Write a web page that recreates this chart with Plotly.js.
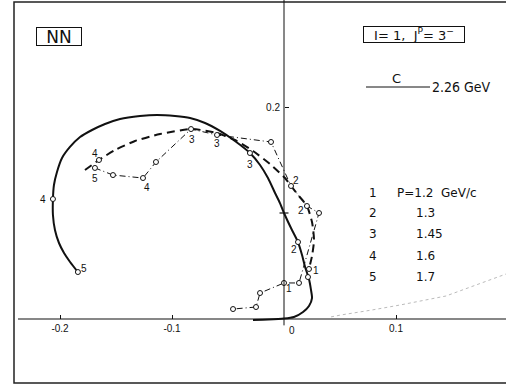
<!DOCTYPE html>
<html>
<head>
<meta charset="utf-8">
<script src="https://cdn.plot.ly/plotly-3.0.1.min.js"></script>
<style>html,body{margin:0;padding:0;background:#fff;}#chart{width:506px;height:385px;}</style>
</head>
<body>
<div id="chart"></div>
<script>
// Solid curve (energy-dependent solution)
const solidX = [-0.184,-0.191,-0.1964,-0.2009,-0.2045,-0.2063,-0.2063,-0.2054,-0.2027,-0.1982,-0.1911,-0.1821,-0.1714,-0.1598,-0.1464,-0.1286,-0.1134,-0.0973,-0.0839,-0.0705,-0.0571,-0.0438,-0.0304,-0.0214,-0.0143,-0.008,-0.0036,0,0.00625,0.0125,0.0161,0.0188,0.0223,0.0241,0.025,0.0223,0.017,0.0089,0,-0.0143,-0.0277];
const solidY = [0.0443,0.0538,0.0623,0.0717,0.084,0.0981,0.1132,0.1264,0.1387,0.1519,0.1623,0.1717,0.1783,0.184,0.1887,0.1915,0.1925,0.1915,0.1896,0.1849,0.1774,0.1679,0.1566,0.1453,0.133,0.1189,0.1094,0.1,0.0858,0.0726,0.0604,0.0491,0.0377,0.0274,0.0198,0.0123,0.0066,0.0019,0.0004,-0.0005,-0.0009];
const solidPtX = [-0.184,-0.2063,-0.0304,0.0125,0.0214];
const solidPtY = [0.0443,0.1132,0.1566,0.0726,0.0396];

// Dashed curve
const dashX = [-0.1777,-0.1652,-0.1509,-0.133,-0.1107,-0.0821,-0.0598,-0.0438,-0.0277,-0.0125,0.0009,0.00625,0.0134,0.0205,0.025,0.0268,0.025,0.0223];
const dashY = [0.1406,0.15,0.1594,0.1679,0.1745,0.1792,0.1755,0.1689,0.1585,0.1462,0.133,0.1255,0.116,0.1066,0.0915,0.0745,0.0594,0.0472];
const dashPtX = [-0.1652,0.0223];
const dashPtY = [0.15,0.0472];

// Dash-dot chain of single-energy points
const ddX = [-0.1688,-0.1527,-0.1259,-0.1143,-0.083,-0.0598,-0.0116,0.00625,0.0205,0.03125,0.0134,0,-0.0214,-0.025,-0.0455];
const ddY = [0.1425,0.1358,0.133,0.1481,0.1792,0.1736,0.167,0.1255,0.1066,0.1,0.034,0.034,0.0245,0.0113,0.0094];

// Faint curve lower right
const faintX = [0.042,0.0509,0.0786,0.1036,0.1446,0.1982,0.21];
const faintY = [0.002,0.0038,0.0085,0.0132,0.0217,0.0425,0.047];

// Point labels
const ptLabel = ["5","4","4","5","4","3","3","3","2","2","2","1","1"];
const ptLabelX = [-0.1786,-0.2152,-0.1688,-0.1688,-0.1223,-0.0821,-0.0598,-0.0305,0.0107,0.0152,0.0089,0.0286,0.0045];
const ptLabelY = [0.0481,0.1132,0.1557,0.133,0.1236,0.1689,0.1651,0.1462,0.1311,0.1019,0.0651,0.0453,0.0292];

// Legend text
const legNum = ["1","2","3","4","5"];
const legMom = ["P=1.2  GeV/c","1.3","1.45","1.6","1.7"];

// Axis ticks
const xTickVals = [-0.2,-0.1,0.1];
const xTickText = ["-0.2","-0.1","0.1"];
const yTickVals = [0.2];
const yTickText = ["0.2"];

const W = 506, H = 385;
const X0PX = 284, Y0PX = 319, XSCALE = 1120, YSCALE = 1060;
const xr = [(0 - X0PX)/XSCALE, (W - X0PX)/XSCALE];
const yr = [(Y0PX - H)/YSCALE, (Y0PX - 0)/YSCALE];
const px = v => v / W;
const py = v => 1 - v / H;
const ink = "#111";

const mk = {symbol:"circle", size:5, color:"#fff", line:{color:ink, width:1}};

const traces = [
  {x:faintX, y:faintY, mode:"lines", line:{color:"#bbb", width:1, dash:"dot"}, hoverinfo:"skip"},
  {x:solidX, y:solidY, mode:"lines", line:{color:ink, width:2, shape:"spline", smoothing:0.6}, hoverinfo:"skip"},
  {x:dashX, y:dashY, mode:"lines", line:{color:ink, width:2, dash:"8px,5px", shape:"spline", smoothing:0.6}, hoverinfo:"skip"},
  {x:ddX, y:ddY, mode:"lines+markers", line:{color:ink, width:1, dash:"6px,3px,1px,3px"}, marker:mk, hoverinfo:"skip"},
  {x:solidPtX, y:solidPtY, mode:"markers", marker:mk, hoverinfo:"skip"},
  {x:dashPtX, y:dashPtY, mode:"markers", marker:mk, hoverinfo:"skip"}
];

const annotations = [];
ptLabel.forEach((t,i)=>annotations.push({x:ptLabelX[i], y:ptLabelY[i], xref:"x", yref:"y", text:t, showarrow:false, xanchor:"center", yanchor:"middle", font:{size:10, color:ink, family:"Liberation Sans, Arial, sans-serif"}}));
// legend rows
const rowY = [193,213,234,256,277];
legNum.forEach((t,i)=>{
  annotations.push({x:px(373), y:py(rowY[i]), xref:"paper", yref:"paper", text:t, showarrow:false, xanchor:"center", yanchor:"middle", font:{size:12, color:ink, family:"DejaVu Sans, sans-serif"}});
  annotations.push({x:px(i===0?395:414), y:py(rowY[i]), xref:"paper", yref:"paper", text:legMom[i], showarrow:false, xanchor:"left", yanchor:"middle", font:{size:12, color:ink, family:"DejaVu Sans, sans-serif"}});
});
// boxes
annotations.push({x:px(59), y:py(36.5), xref:"paper", yref:"paper", text:"NN", showarrow:false, xanchor:"center", yanchor:"middle", font:{size:17, color:ink, family:"DejaVu Sans, sans-serif"}, bordercolor:ink, borderwidth:1, borderpad:0, width:44, height:17, bgcolor:"#fff"});
annotations.push({x:px(414), y:py(34.5), xref:"paper", yref:"paper", text:"I= 1,  J<sup>P</sup>= 3<sup>−</sup>", showarrow:false, xanchor:"center", yanchor:"middle", font:{size:13, color:ink, family:"DejaVu Sans, sans-serif"}, bordercolor:ink, borderwidth:1, borderpad:0, width:100, height:15, bgcolor:"#fff"});
annotations.push({x:px(396), y:py(79), xref:"paper", yref:"paper", text:"C", showarrow:false, xanchor:"center", yanchor:"middle", font:{size:13, color:ink, family:"DejaVu Sans, sans-serif"}});
annotations.push({x:px(430), y:py(87), xref:"paper", yref:"paper", text:"2.26 GeV", showarrow:false, xanchor:"left", yanchor:"middle", font:{size:14, color:ink, family:"DejaVu Sans Condensed, DejaVu Sans, sans-serif"}});
annotations.push({x:0, y:0, xref:"x", yref:"y", text:"0", showarrow:false, xanchor:"left", yanchor:"top", xshift:3, yshift:-4, font:{size:10, color:ink, family:"Liberation Sans, Arial, sans-serif"}});

const shapes = [
  {type:"rect", xref:"paper", yref:"paper", x0:px(14), x1:1.02, y0:py(383), y1:py(2), line:{color:"#222", width:1.5}},
  {type:"line", xref:"x", yref:"y", x0:0, x1:0, y0:-0.006, y1:yr[1], line:{color:ink, width:1}},
  {type:"line", xref:"x", yref:"y", x0:(18-X0PX)/XSCALE, x1:xr[1], y0:0, y1:0, line:{color:ink, width:1.2}},
  {type:"line", xref:"x", yref:"y", x0:-0.004, x1:0.004, y0:0.1, y1:0.1, line:{color:ink, width:1.2}},
  {type:"line", xref:"paper", yref:"paper", x0:px(366), x1:px(430), y0:py(87), y1:py(87), line:{color:ink, width:1}}
];

const layout = {
  width:W, height:H, margin:{l:0,r:0,t:0,b:0}, showlegend:false,
  paper_bgcolor:"#fff", plot_bgcolor:"#fff",
  xaxis:{range:xr, anchor:"free", position:(H-Y0PX)/H, showgrid:false, zeroline:false, showline:false,
         ticks:"inside", ticklen:4, tickcolor:ink, tickvals:xTickVals, ticktext:xTickText, ticklabelstandoff:2,
         tickfont:{size:10, color:ink, family:"Liberation Sans, Arial, sans-serif"}, fixedrange:true},
  yaxis:{range:yr, anchor:"free", position:X0PX/W, showgrid:false, zeroline:false, showline:false,
         ticks:"inside", ticklen:4, tickcolor:ink, tickvals:yTickVals, ticktext:yTickText, ticklabelstandoff:4,
         tickfont:{size:10, color:ink, family:"Liberation Sans, Arial, sans-serif"}, fixedrange:true},
  annotations:annotations, shapes:shapes
};

Plotly.newPlot("chart", traces, layout, {staticPlot:true, displayModeBar:false});
</script>
</body>
</html>
